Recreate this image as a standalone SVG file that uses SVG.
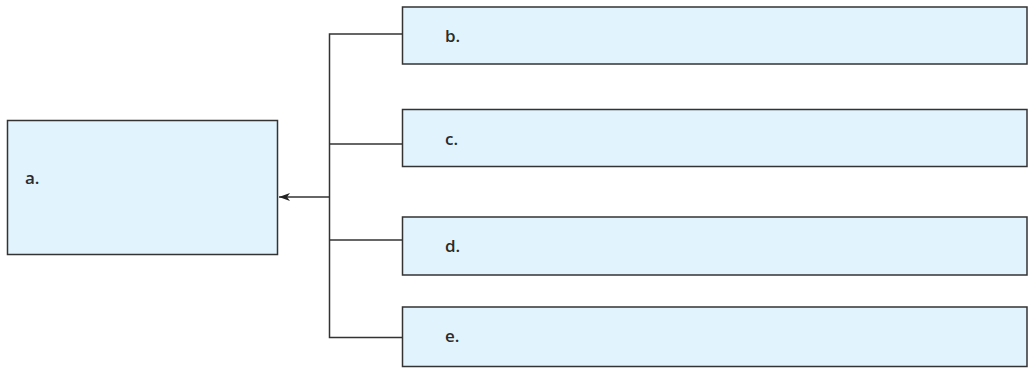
<svg xmlns="http://www.w3.org/2000/svg" width="1028" height="370" viewBox="0 0 1028 370">
<style>
.box{fill:#e1f3fd;stroke:#333;stroke-width:1.5}
.lbl{font-family:"Open Sans",sans-serif;font-size:17px;font-weight:600;fill:#2b2b2b}
.con{fill:none;stroke:#333;stroke-width:1.5}
</style>
<defs>
<marker id="arr" markerWidth="12" markerHeight="10" refX="11" refY="5" orient="auto" markerUnits="userSpaceOnUse">
<path d="M0,1 L11,5 L0,9 L3,5 Z" fill="#222"/>
</marker>
</defs>
<g id="a"><rect class="box" x="7.5" y="120.5" width="270" height="134"/><text class="lbl" x="25" y="184">a.</text></g>
<g id="b"><rect class="box" x="402.5" y="7" width="624.5" height="57"/><text class="lbl" x="445" y="42">b.</text></g>
<g id="c"><rect class="box" x="402.5" y="109.5" width="624.5" height="57"/><text class="lbl" x="445" y="145">c.</text></g>
<g id="d"><rect class="box" x="402.5" y="217" width="624.5" height="58"/><text class="lbl" x="445" y="252">d.</text></g>
<g id="e"><rect class="box" x="402.5" y="307" width="624.5" height="59.5"/><text class="lbl" x="445" y="342">e.</text></g>
<g id="connectors">
<path class="con" d="M402.5,34 H329.5 V337.5 H402.5"/>
<path class="con" d="M329.5,144 H402.5"/>
<path class="con" d="M329.5,240 H402.5"/>
<path class="con" d="M329.5,197 H279" marker-end="url(#arr)"/>
</g>
</svg>
